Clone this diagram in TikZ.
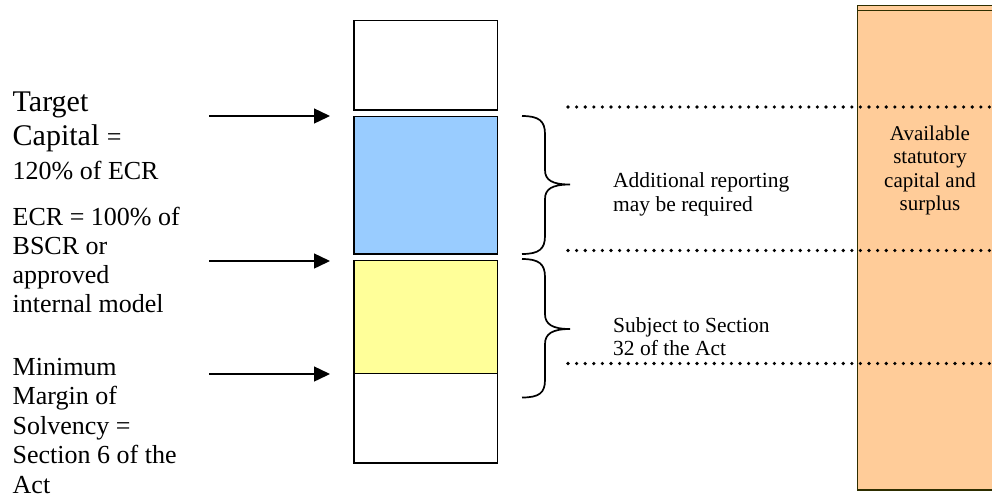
\documentclass[tikz,border=0pt]{standalone}
\usepackage{fontspec}
\setmainfont{Liberation Serif}
\usetikzlibrary{arrows.meta,calc}
\definecolor{capblue}{HTML}{99CCFF}
\definecolor{capyellow}{HTML}{FFFF99}
\definecolor{capsand}{HTML}{FFCC99}
\definecolor{capedge}{HTML}{2E2E00}

\begin{document}
\begin{tikzpicture}[x=1pt,y=-1pt,
  tier/.style={draw=black, line width=1.6pt, inner sep=0pt, outer sep=0pt,
    anchor=north west, minimum width=143.5pt},
  pointer/.style={line width=1.4pt, -{Triangle[length=16pt,width=15pt]}},
  level/.style={line width=3.6pt, line cap=round, dash pattern=on 0pt off 8.6pt},
  bracket/.style={line width=1.7pt},
  bigline/.style={anchor=base west, inner sep=0pt, font=\fontsize{30}{34}\selectfont},
  sideline/.style={anchor=base west, inner sep=0pt, font=\fontsize{26}{30}\selectfont},
  noteline/.style={anchor=base west, inner sep=0pt, font=\fontsize{21.5}{24}\selectfont},
  sandline/.style={anchor=base, inner sep=0pt, font=\fontsize{21}{24}\selectfont}
]
\useasboundingbox (0,0) rectangle (992,499);

% capital stack
\node[tier, minimum height=89.5pt]                  (top)    at (354,20.5)  {};
\node[tier, minimum height=137.5pt, fill=capblue]   (blue)   at (354,116.5) {};
\node[tier, minimum height=113pt,   fill=capyellow] (yellow) at (354,260.5) {};
\node[tier, minimum height=89.5pt]                  (bottom) at (354,373.5) {};

% available capital column
\node[fill=capsand, draw=capedge, line width=1.5pt, inner sep=0pt, outer sep=0pt,
  anchor=north west, minimum width=150pt, minimum height=484.5pt] (avail) at (857.5,5.7) {};
\draw[capedge, line width=1.4pt] ($(avail.north west)+(0,4.8)$) -- ++(145,0);
\foreach \y/\txt [count=\i] in {140/Available, 163.5/statutory, 187/capital and, 210.5/surplus}
  \node[sandline] (sand\i) at (930,\y) {\txt};

% threshold levels
\coordinate (lv1) at (568,107);
\coordinate (lv2) at (568,250.5);
\coordinate (lv3) at (568,363.5);
\foreach \k in {1,2,3}
  \draw[level] (lv\k) -- ($(lv\k)+(430,0)$);

% braces
\draw[bracket] (522,116) .. controls (539,116) and (545,121) .. (545,134)
  -- (545,170) .. controls (545,180) and (552,184.5) .. (570,184.5)
  .. controls (552,184.5) and (545,189) .. (545,199)
  -- (545,236) .. controls (545,249) and (539,254) .. (522,254);
\draw[bracket] (522,259) .. controls (539,259) and (545,264) .. (545,277)
  -- (545,314) .. controls (545,324) and (552,329) .. (570,329)
  .. controls (552,329) and (545,334) .. (545,344)
  -- (545,380) .. controls (545,393) and (539,397.5) .. (522,397.5);

\foreach \y/\txt [count=\i] in {187.5/Additional reporting, 211/may be required,
    332/Subject to Section, 355.5/32 of the Act}
  \node[noteline] (note\i) at (613,\y) {\txt};

% left labels
\node[bigline] (tgt1) at (12.5,111) {Target};
\node[bigline] (tgt2) at (12.5,145) {Capital {\fontsize{26}{30}\selectfont =}};
\node[sideline] (tgt3) at (12.5,179) {120\% of ECR};
\foreach \y/\txt [count=\i] in {225/ECR = 100\% of, 254/BSCR or, 283/approved,
    312/internal model}
  \node[sideline] (ecr\i) at (12.5,\y) {\txt};
\foreach \y/\txt [count=\i] in {375/Minimum, 404.5/Margin of, 434/Solvency =,
    463.5/Section 6 of the, 493/Act}
  \node[sideline] (mms\i) at (12.5,\y) {\txt};

% pointers to the stack
\coordinate (p1) at (209,116);
\coordinate (p2) at (209,261);
\coordinate (p3) at (209,374);
\draw[pointer] (p1) -- (p1 -| {$(blue.west)+(-24,0)$});
\draw[pointer] (p2) -- (p2 -| {$(yellow.west)+(-24,0)$});
\draw[pointer] (p3) -- (p3 -| {$(bottom.west)+(-24,0)$});
\end{tikzpicture}
\end{document}
